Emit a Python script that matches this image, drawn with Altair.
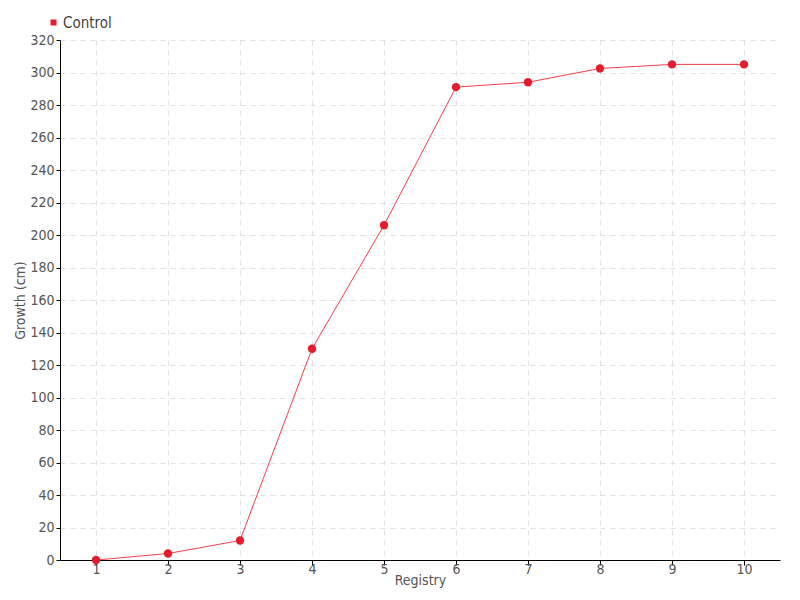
import altair as alt
import pandas as pd

registry = [1, 2, 3, 4, 5, 6, 7, 8, 9, 10]
growth = [0, 4, 12, 130, 206, 291, 294, 302.5, 305, 305]
series = ["Control"] * len(registry)
y_ticks = list(range(0, 321, 20))

df = pd.DataFrame({"Registry": registry, "Growth": growth, "Series": series})

FONT = "Liberation Sans Narrow, DejaVu Sans Condensed, sans-serif"
RED = "#e41c2b"

x = alt.X("Registry:Q",
          scale=alt.Scale(domain=[0.5, 10.5], nice=False, zero=False),
          axis=alt.Axis(values=registry, title="Registry", format="d"))
y = alt.Y("Growth:Q",
          scale=alt.Scale(domain=[0, 320], nice=False),
          axis=alt.Axis(values=y_ticks, title="Growth (cm)"))

line = alt.Chart(df).mark_line(color="#f0404a", strokeWidth=1).encode(x=x, y=y)
points = alt.Chart(df).mark_circle(size=70, opacity=1).encode(
    x=x, y=y,
    color=alt.Color("Series:N",
                    scale=alt.Scale(domain=["Control"], range=[RED]),
                    legend=alt.Legend(title=None, orient="none", legendX=-14, legendY=-25,
                                      symbolType="square", symbolSize=36,
                                      labelFont=FONT, labelFontSize=15, labelColor="#444",
                                      labelOffset=2)))

chart = (line + points).properties(
    width=720, height=520,
    autosize=alt.AutoSizeParams(type="none"),
    padding={"left": 52, "top": 32, "right": 12, "bottom": 40},
).configure_view(stroke=None).configure_axis(
    labelFont=FONT, titleFont=FONT, labelFontSize=14, titleFontSize=14,
    labelColor="#555", titleColor="#555", titleFontWeight="normal",
    domainColor="#000", tickColor="#000", domainWidth=1,
    gridColor="#e0e0e0", gridDash=[5, 5], gridWidth=1,
).configure_axisY(tickSize=4, titlePadding=2, labelPadding=2).configure_axisX(
    tickSize=5, titlePadding=-3, labelPadding=-3)

chart.save("out.html", embed_options={"renderer": "svg", "actions": False})
